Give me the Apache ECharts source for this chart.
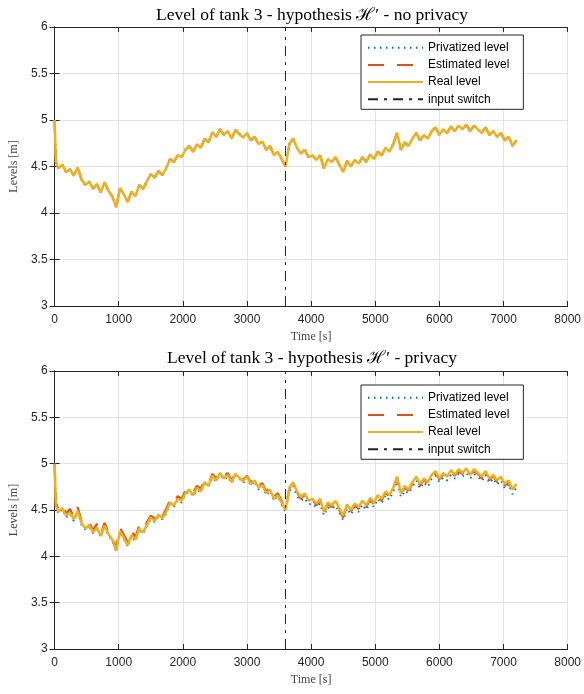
<!DOCTYPE html>
<html>
<head>
<meta charset="utf-8">
<script src="https://cdn.jsdelivr.net/npm/echarts@6/dist/echarts.min.js"></script>
<style>
  html, body { margin: 0; padding: 0; background: #fff; }
  #chart { width: 584px; height: 694px; }
</style>
</head>
<body>
<div id="chart"></div>
<script>
// sample grid: t = 0, 20, then every 60 s up to 7200 s
const sampleStep = 60
const sampleTimes = [0, 20]
for (let t = sampleStep; t <= 7200; t += sampleStep) sampleTimes.push(t)

// real level of tank 3 (same run in both panels)
const realLevel = [5.00, 4.55, 4.48, 4.52, 4.44, 4.47, 4.40, 4.49, 4.36, 4.30,
  4.34, 4.26, 4.31, 4.22, 4.33, 4.24, 4.18, 4.06, 4.27, 4.20,
  4.12, 4.23, 4.18, 4.30, 4.26, 4.34, 4.42, 4.38, 4.45, 4.41,
  4.48, 4.58, 4.55, 4.62, 4.60, 4.68, 4.72, 4.66, 4.74, 4.70,
  4.80, 4.76, 4.87, 4.82, 4.90, 4.84, 4.88, 4.80, 4.89, 4.85,
  4.81, 4.86, 4.78, 4.82, 4.74, 4.77, 4.68, 4.72, 4.62, 4.66,
  4.58, 4.50, 4.74, 4.80, 4.70, 4.64, 4.68, 4.60, 4.62, 4.57,
  4.62, 4.48, 4.58, 4.55, 4.60, 4.52, 4.44, 4.56, 4.50, 4.57,
  4.53, 4.60, 4.55, 4.63, 4.58, 4.66, 4.62, 4.70, 4.66, 4.74,
  4.86, 4.68, 4.76, 4.72, 4.80, 4.86, 4.78, 4.84, 4.80, 4.88,
  4.92, 4.84, 4.90, 4.86, 4.93, 4.88, 4.94, 4.90, 4.95, 4.88,
  4.94, 4.90, 4.86, 4.92, 4.84, 4.88, 4.82, 4.86, 4.78, 4.82,
  4.72, 4.78]

// no privacy: estimate and privatized level sit on the real level
const estimatedNoPriv = realLevel
const privatizedNoPriv = realLevel

// privacy panel
const estimatedPriv = [5.00, 4.58, 4.51, 4.56, 4.46, 4.51, 4.42, 4.53, 4.38, 4.33,
  4.37, 4.28, 4.35, 4.24, 4.36, 4.26, 4.21, 4.09, 4.31, 4.23,
  4.15, 4.27, 4.21, 4.33, 4.28, 4.37, 4.44, 4.41, 4.48, 4.43,
  4.51, 4.61, 4.57, 4.65, 4.62, 4.71, 4.74, 4.69, 4.76, 4.73,
  4.82, 4.78, 4.89, 4.84, 4.91, 4.86, 4.90, 4.82, 4.90, 4.87,
  4.83, 4.87, 4.80, 4.84, 4.76, 4.79, 4.70, 4.74, 4.64, 4.68,
  4.60, 4.51, 4.73, 4.78, 4.69, 4.62, 4.67, 4.58, 4.61, 4.55,
  4.61, 4.46, 4.57, 4.53, 4.59, 4.50, 4.42, 4.55, 4.48, 4.56,
  4.51, 4.59, 4.53, 4.62, 4.56, 4.65, 4.60, 4.69, 4.64, 4.73,
  4.84, 4.67, 4.74, 4.71, 4.78, 4.85, 4.76, 4.83, 4.78, 4.87,
  4.90, 4.83, 4.88, 4.85, 4.91, 4.87, 4.92, 4.89, 4.93, 4.87,
  4.92, 4.89, 4.84, 4.91, 4.82, 4.87, 4.80, 4.85, 4.76, 4.81,
  4.70, 4.77]
const privatizedPriv = [5.00, 4.53, 4.46, 4.51, 4.42, 4.46, 4.38, 4.48, 4.34, 4.29,
  4.32, 4.25, 4.29, 4.21, 4.31, 4.23, 4.16, 4.05, 4.25, 4.19,
  4.10, 4.22, 4.16, 4.29, 4.24, 4.33, 4.40, 4.37, 4.43, 4.40,
  4.46, 4.57, 4.53, 4.61, 4.58, 4.67, 4.70, 4.65, 4.72, 4.69,
  4.78, 4.75, 4.85, 4.81, 4.88, 4.83, 4.86, 4.79, 4.87, 4.84,
  4.79, 4.85, 4.76, 4.81, 4.72, 4.76, 4.66, 4.71, 4.60, 4.65,
  4.56, 4.48, 4.70, 4.76, 4.65, 4.60, 4.63, 4.56, 4.57, 4.53,
  4.57, 4.44, 4.53, 4.51, 4.55, 4.48, 4.39, 4.52, 4.45, 4.53,
  4.48, 4.56, 4.50, 4.59, 4.53, 4.62, 4.57, 4.66, 4.61, 4.70,
  4.81, 4.64, 4.71, 4.68, 4.75, 4.82, 4.73, 4.80, 4.75, 4.84,
  4.87, 4.80, 4.85, 4.82, 4.88, 4.84, 4.89, 4.86, 4.90, 4.84,
  4.89, 4.86, 4.81, 4.88, 4.79, 4.84, 4.77, 4.82, 4.73, 4.78,
  4.67, 4.74]

const switchTime = 3600
const xTicks = [0, 8000, 1000]
const yTicks = [3, 6, 0.5]
const panelTitles = ['Level of tank 3 - hypothesis \u210B\u2032 - no privacy',
  'Level of tank 3 - hypothesis \u210B\u2032 - privacy']
const legendNames = ['Privatized level', 'Estimated level', 'Real level', 'input switch']

const pair = (vals) => vals.map((v, i) => [sampleTimes[i], v])

const chart = echarts.init(document.getElementById('chart'), null, { renderer: 'canvas' })

const axisColor = '#262626'
const serif = '"Liberation Serif", "DejaVu Serif", serif'
const sans = '"Liberation Sans", Arial, sans-serif'

const grids = [
  { left: 51, right: 13, top: 27, height: 279 },
  { left: 51, right: 13, top: 371, height: 278 }
]

const xAxes = []
const yAxes = []
grids.forEach((g, k) => {
  xAxes.push({
    gridIndex: k, type: 'value', min: xTicks[0], max: xTicks[1], interval: xTicks[2],
    name: 'Time [s]', nameLocation: 'middle', nameGap: 25,
    nameTextStyle: { fontFamily: serif, fontSize: 12, color: '#444' },
    axisLine: { lineStyle: { color: axisColor, width: 1 } },
    axisTick: { inside: true, length: 5, lineStyle: { color: axisColor } },
    axisLabel: { fontFamily: sans, fontSize: 12, color: axisColor, margin: 8, formatter: v => String(v) },
    splitLine: { show: true, lineStyle: { color: '#e3e3e3', width: 1 } }
  })
  xAxes.push({
    gridIndex: k, type: 'value', position: 'top', min: xTicks[0], max: xTicks[1], interval: xTicks[2],
    axisLine: { lineStyle: { color: axisColor, width: 1 } },
    axisTick: { inside: true, length: 5, lineStyle: { color: axisColor } },
    axisLabel: { show: false }, splitLine: { show: false }
  })
  yAxes.push({
    gridIndex: k, type: 'value', min: yTicks[0], max: yTicks[1], interval: yTicks[2],
    name: 'Levels [m]', nameLocation: 'middle', nameGap: 33,
    nameTextStyle: { fontFamily: serif, fontSize: 12, color: '#444' },
    axisLine: { show: true, lineStyle: { color: axisColor, width: 1 } },
    axisTick: { show: true, inside: true, length: 5, lineStyle: { color: axisColor } },
    axisLabel: { fontFamily: sans, fontSize: 12, color: axisColor, margin: 7 },
    splitLine: { show: true, lineStyle: { color: '#e3e3e3', width: 1 } }
  })
  yAxes.push({
    gridIndex: k, type: 'value', position: 'right', min: yTicks[0], max: yTicks[1], interval: yTicks[2],
    axisLine: { show: true, lineStyle: { color: axisColor, width: 1 } },
    axisTick: { show: true, inside: true, length: 5, lineStyle: { color: axisColor } },
    axisLabel: { show: false }, splitLine: { show: false }
  })
})

const panelSeries = (k, priv, est) => [
  {
    name: legendNames[0], type: 'line', xAxisIndex: 2 * k, yAxisIndex: 2 * k,
    data: pair(priv), showSymbol: false, symbol: 'none',
    lineStyle: { color: '#0072BD', width: 2, type: [1.5, 4.5] },
    itemStyle: { color: '#0072BD' }
  },
  {
    name: legendNames[1], type: 'line', xAxisIndex: 2 * k, yAxisIndex: 2 * k,
    data: pair(est), showSymbol: false, symbol: 'none',
    lineStyle: { color: '#D95319', width: 2.2, type: [16, 13] },
    itemStyle: { color: '#D95319' }
  },
  {
    name: legendNames[2], type: 'line', xAxisIndex: 2 * k, yAxisIndex: 2 * k,
    data: pair(realLevel), showSymbol: false, symbol: 'none',
    lineStyle: { color: '#EDB120', width: 2.5 },
    itemStyle: { color: '#EDB120' }
  },
  {
    name: legendNames[3], type: 'line', xAxisIndex: 2 * k, yAxisIndex: 2 * k,
    data: [[switchTime, yTicks[0]], [switchTime, yTicks[1]]], showSymbol: false, symbol: 'none',
    lineStyle: { color: '#222', width: 1, type: [10, 6, 3, 6] },
    itemStyle: { color: '#222' }, z: 5
  }
]

const legendFor = (top) => ({
  orient: 'vertical', left: 361, top: top,
  data: legendNames,
  itemWidth: 55, itemHeight: 14, itemGap: 5.2,
  padding: [6.7, 14, 4, 6],
  itemStyle: { opacity: 0 },
  borderColor: axisColor, borderWidth: 1, backgroundColor: '#fff',
  textStyle: { fontFamily: sans, fontSize: 12, color: '#000' },
  selectedMode: false
})

chart.setOption({
  animation: false,
  backgroundColor: '#fff',
  title: panelTitles.map((t, k) => ({
    text: t, left: 307, top: k === 0 ? 1 : 344, textAlign: 'center',
    textStyle: { fontFamily: serif, fontSize: 17.5, fontWeight: 'normal', color: '#000' }
  })),
  legend: [legendFor(35), legendFor(385)],
  grid: grids,
  xAxis: xAxes,
  yAxis: yAxes,
  series: panelSeries(0, privatizedNoPriv, estimatedNoPriv)
    .concat(panelSeries(1, privatizedPriv, estimatedPriv))
})
</script>
</body>
</html>
